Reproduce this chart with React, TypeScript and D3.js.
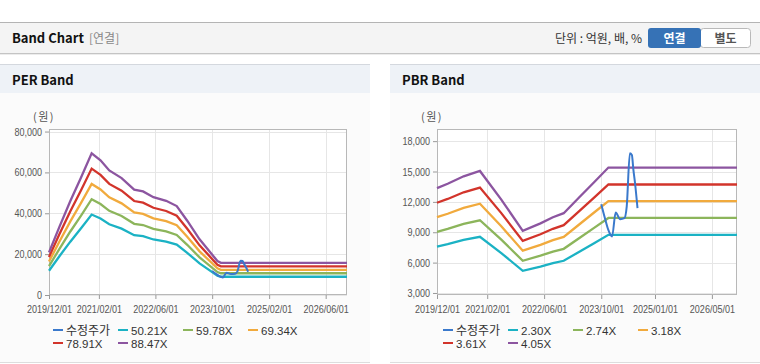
import React, { useEffect, useRef } from 'react';
import * as d3 from 'd3';

// PER 밴드: EPS(원) x 배수
const perDates = ['2019-12-01', '2020-03-01', '2020-06-01', '2020-09-01', '2020-12-01', '2021-02-15', '2021-05-01', '2021-08-15', '2021-12-01', '2022-02-15', '2022-05-15', '2022-09-01', '2022-12-01', '2023-03-01', '2023-06-15', '2023-11-15', '2023-12-15', '2026-12-01'];
const perEps = [236, 380, 520, 650, 784, 745, 689, 647, 583, 573, 541, 521, 492, 411, 308, 188, 178, 178];
const perMultiples = [50.21, 59.78, 69.34, 78.91, 88.47];

// PBR 밴드: BPS(원) x 배수
const pbrDates = ['2019-12-01', '2020-03-01', '2020-07-15', '2020-12-01', '2021-06-01', '2021-12-01', '2022-05-01', '2022-08-15', '2022-11-15', '2023-04-01', '2023-08-01', '2023-12-01', '2026-12-01'];
const pbrBps = [3300, 3404, 3587, 3717, 3017, 2257, 2439, 2587, 2687, 3087, 3443, 3800, 3800];
const pbrMultiples = [2.30, 2.74, 3.18, 3.61, 4.05];

// 수정주가
const priceDates = ['2023-10-01', '2023-11-01', '2023-12-01', '2024-01-01', '2024-02-01', '2024-03-10', '2024-04-15', '2024-05-05', '2024-06-01', '2024-06-18', '2024-07-01', '2024-07-15', '2024-08-05'];
const priceValues = [11770, 10400, 9200, 8580, 10950, 10290, 10390, 11540, 16800, 16640, 15160, 13840, 11380];

const perXTicks = ['2019-12-01', '2021-02-01', '2022-06-01', '2023-10-01', '2025-02-01', '2026-06-01'];
const pbrXTicks = ['2019-12-01', '2021-02-01', '2022-06-01', '2023-10-01', '2025-01-01', '2026-05-01'];
const perYTicks = [0, 20000, 40000, 60000, 80000];
const pbrYTicks = [3000, 6000, 9000, 12000, 15000, 18000];

const bandColors = ['#1bb2c4', '#8cb55b', '#f1aa3d', '#d2342b', '#8c55a0'];
const priceColor = '#3a79cc';
const priceLabel = '수정주가';

const parse = d3.utcParse('%Y-%m-%d');
const fmtDate = d3.utcFormat('%Y/%m/%d');
const numFont = '"Liberation Sans", Arial, sans-serif';
const krFont = '"Noto Sans CJK KR", "Noto Sans", sans-serif';

// 좁은 숫자 글꼴 폭 흉내 (숫자 0.456em, 쉼표/슬래시 0.228em)
const narrowWidth = (s: string, size: number) =>
  s.split('').reduce((acc, c) => acc + (/[0-9]/.test(c) ? 0.456 : 0.228), 0) * size;

type Panel = {
  left: number;
  title: string;
  dates: string[];
  base: number[];
  multiples: number[];
  suffix: string;
  xTicks: string[];
  yTicks: number[];
  yDomain: [number, number];
  plotLeft: number;
  plotRight: number;
};

const drawPanel = (root: d3.Selection<SVGGElement, unknown, null, undefined>, p: Panel) => {
  const g = root.append('g');
  const w = 370;

  // 패널 배경
  g.append('rect').attr('x', p.left).attr('y', 64).attr('width', w).attr('height', 299).attr('fill', '#fbfbfb');
  g.append('rect').attr('x', p.left).attr('y', 64).attr('width', w).attr('height', 29).attr('fill', '#eef2f7');
  g.append('line').attr('x1', p.left).attr('x2', p.left + w).attr('y1', 64.5).attr('y2', 64.5).attr('stroke', '#d4d8de');
  g.append('line').attr('x1', p.left).attr('x2', p.left + w).attr('y1', 362.5).attr('y2', 362.5).attr('stroke', '#dddddd');
  g.append('text').attr('x', p.left + 12).attr('y', 85).attr('font-family', krFont).attr('font-size', 13)
    .attr('font-weight', 'bold').attr('fill', '#111').text(p.title);

  const top = 129;
  const bottom = 295;
  const x = d3.scaleUtc().domain([parse('2019-12-01')!, parse('2026-12-01')!]).range([p.plotLeft, p.plotRight]);
  const y = d3.scaleLinear().domain(p.yDomain).range([bottom, top]);

  g.append('rect').attr('x', p.plotLeft).attr('y', top).attr('width', p.plotRight - p.plotLeft)
    .attr('height', bottom - top).attr('fill', '#ffffff');

  // 그리드
  g.selectAll('.vg').data(p.xTicks).enter().append('line')
    .attr('x1', d => Math.round(x(parse(d)!)) + 0.5).attr('x2', d => Math.round(x(parse(d)!)) + 0.5)
    .attr('y1', top).attr('y2', bottom).attr('stroke', '#e6e6e6');
  g.selectAll('.hg').data(p.yTicks).enter().append('line')
    .attr('x1', p.plotLeft).attr('x2', p.plotRight)
    .attr('y1', d => Math.round(y(d)) + 0.5).attr('y2', d => Math.round(y(d)) + 0.5).attr('stroke', '#e6e6e6');

  g.append('rect').attr('x', p.plotLeft + 0.5).attr('y', top + 0.5).attr('width', p.plotRight - p.plotLeft - 1)
    .attr('height', bottom - top - 1).attr('fill', 'none').attr('stroke', '#b8b8b8');

  // 축
  const xAxis = d3.axisBottom(x).tickValues(p.xTicks.map(d => parse(d)!)).tickFormat(d => fmtDate(d as Date))
    .tickSize(4).tickSizeOuter(0);
  const ax = g.append('g').attr('transform', `translate(0,${bottom})`).call(xAxis);
  ax.select('.domain').remove();
  ax.selectAll('line').attr('stroke', '#999');
  ax.selectAll<SVGTextElement, Date>('text').attr('font-family', numFont).attr('font-size', 11).attr('fill', '#555')
    .attr('dy', '1.0em').attr('lengthAdjust', 'spacingAndGlyphs')
    .attr('textLength', d => narrowWidth(fmtDate(d), 11));

  const yAxis = d3.axisLeft(y).tickValues(p.yTicks).tickFormat(d3.format(',')).tickSize(4).tickSizeOuter(0);
  const ay = g.append('g').attr('transform', `translate(${p.plotLeft},0)`).call(yAxis);
  ay.select('.domain').remove();
  ay.selectAll('line').attr('stroke', '#999');
  ay.selectAll<SVGTextElement, number>('text').attr('font-family', numFont).attr('font-size', 11).attr('fill', '#555')
    .attr('lengthAdjust', 'spacingAndGlyphs').attr('textLength', d => narrowWidth(d3.format(',')(d), 11));

  g.append('text').attr('x', p.plotLeft - 16).attr('y', 121).attr('font-family', krFont).attr('font-size', 11)
    .attr('letter-spacing', 1.5).attr('fill', '#555').text('(원)');

  // 밴드 라인
  const line = d3.line<[Date, number]>().x(d => x(d[0])).y(d => y(d[1]));
  p.multiples.forEach((m, i) => {
    const pts: [Date, number][] = p.dates.map((d, j) => [parse(d)!, p.base[j] * m]);
    g.append('path').attr('d', line(pts)).attr('fill', 'none').attr('stroke', bandColors[i]).attr('stroke-width', 2.3);
  });
  const pricePts: [Date, number][] = priceDates.map((d, j) => [parse(d)!, priceValues[j]]);
  g.append('path').attr('d', line.curve(d3.curveMonotoneX)(pricePts)).attr('fill', 'none')
    .attr('stroke', priceColor).attr('stroke-width', 2);

  // 범례
  const items = [{ label: priceLabel, color: priceColor }].concat(
    p.multiples.map((m, i) => ({ label: `${m.toFixed(2)}${p.suffix}`, color: bandColors[i] })));
  const lg = g.selectAll('.legend').data(items).enter().append('g')
    .attr('transform', (d, i) => `translate(${p.left + 53 + (i % 4) * 65},${330 + Math.floor(i / 4) * 13})`);
  lg.append('line').attr('x1', 0).attr('x2', 10).attr('y1', 0).attr('y2', 0)
    .attr('stroke', d => d.color).attr('stroke-width', 2);
  lg.append('text').attr('x', 13).attr('y', 4.5).attr('font-family', (d, i) => (i === 0 ? krFont : numFont))
    .attr('font-size', (d, i) => (i === 0 ? 12 : 11.5)).attr('fill', '#333').text(d => d.label);
};

const App = () => {
  const svgRef = useRef<SVGSVGElement>(null);

  useEffect(() => {
    document.body.style.margin = '0';
    const svg = d3.select(svgRef.current);
    svg.selectAll('*').remove();
    const root = svg.append('g');

    // 상단 헤더
    root.append('rect').attr('x', 0).attr('y', 0).attr('width', 760).attr('height', 364).attr('fill', '#ffffff');
    root.append('rect').attr('x', 0).attr('y', 22).attr('width', 760).attr('height', 31).attr('fill', '#f4f4f4');
    root.append('line').attr('x1', 0).attr('x2', 760).attr('y1', 22.5).attr('y2', 22.5).attr('stroke', '#b4b4b4');
    root.append('line').attr('x1', 0).attr('x2', 760).attr('y1', 53.5).attr('y2', 53.5).attr('stroke', '#c4c4c4');
    root.append('line').attr('x1', 0).attr('x2', 760).attr('y1', 54.5).attr('y2', 54.5).attr('stroke', '#ececec');
    root.append('text').attr('x', 12).attr('y', 43).attr('font-family', krFont).attr('font-size', 13)
      .attr('font-weight', 'bold').attr('fill', '#111').text('Band Chart');
    root.append('text').attr('x', 89).attr('y', 43).attr('font-family', krFont).attr('font-size', 12)
      .attr('fill', '#888').text('[연결]');
    root.append('text').attr('x', 642).attr('y', 43).attr('text-anchor', 'end').attr('font-family', krFont)
      .attr('font-size', 12).attr('fill', '#333').text('단위 : 억원, 배, %');

    root.append('rect').attr('x', 700.5).attr('y', 28.5).attr('width', 50).attr('height', 19).attr('rx', 3)
      .attr('fill', '#ffffff').attr('stroke', '#b9b9b9');
    root.append('rect').attr('x', 648).attr('y', 28).attr('width', 53).attr('height', 20).attr('rx', 3)
      .attr('fill', '#3672b6');
    root.append('text').attr('x', 674.5).attr('y', 43).attr('text-anchor', 'middle').attr('font-family', krFont)
      .attr('font-size', 12).attr('font-weight', 'bold').attr('fill', '#ffffff').text('연결');
    root.append('text').attr('x', 725.5).attr('y', 43).attr('text-anchor', 'middle').attr('font-family', krFont)
      .attr('font-size', 12).attr('font-weight', 'bold').attr('fill', '#555').text('별도');

    drawPanel(root, {
      left: 0, title: 'PER Band', dates: perDates, base: perEps, multiples: perMultiples, suffix: 'X',
      xTicks: perXTicks, yTicks: perYTicks, yDomain: [0, 81250], plotLeft: 49, plotRight: 347,
    });
    drawPanel(root, {
      left: 390, title: 'PBR Band', dates: pbrDates, base: pbrBps, multiples: pbrMultiples, suffix: 'X',
      xTicks: pbrXTicks, yTicks: pbrYTicks, yDomain: [2800, 19200], plotLeft: 437, plotRight: 737,
    });
  }, []);

  return <svg ref={svgRef} width={760} height={364} style={{ position: 'absolute', left: 0, top: 0, display: 'block' }} />;
};

export default App;
